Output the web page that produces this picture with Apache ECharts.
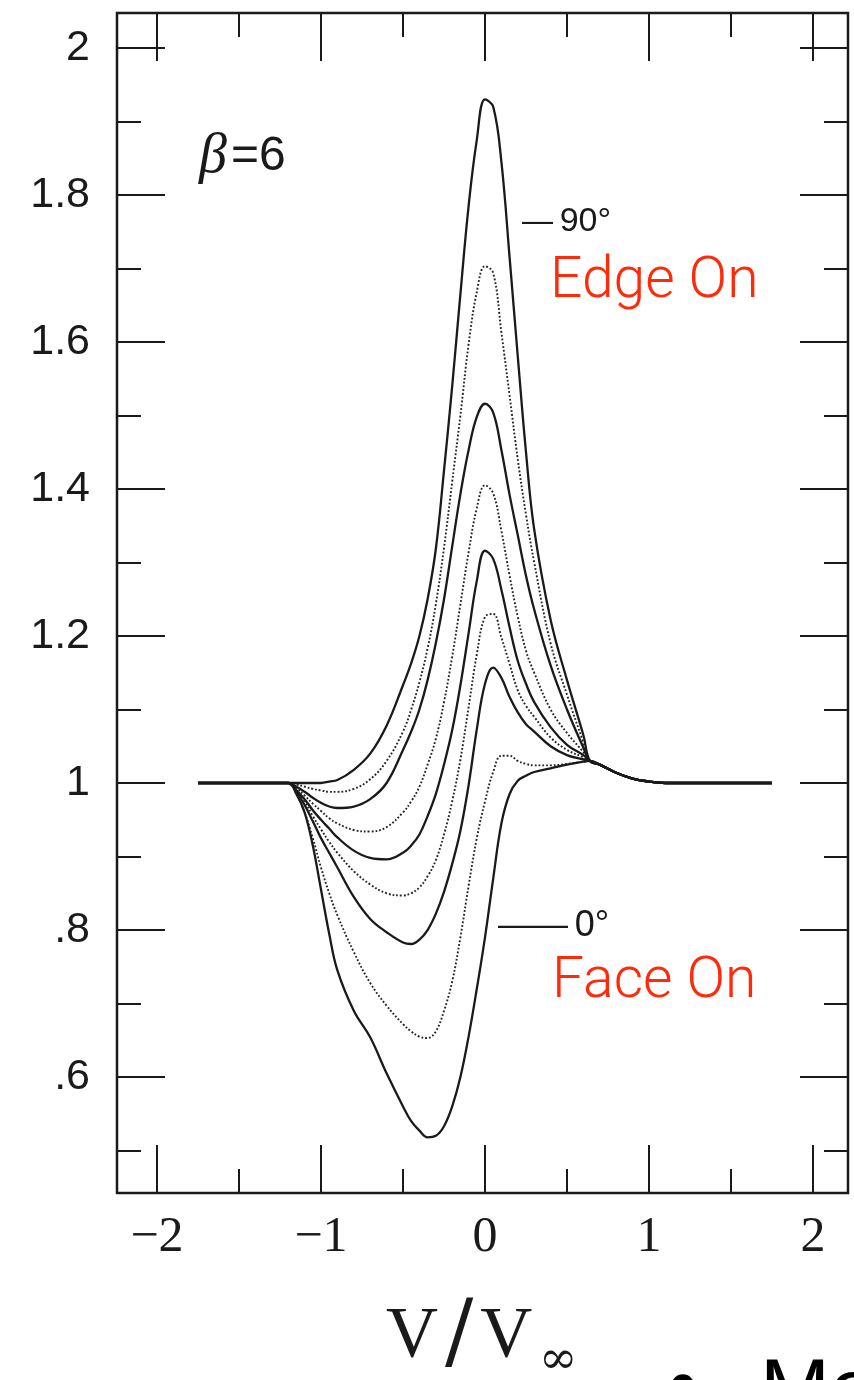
<!DOCTYPE html>
<html><head><meta charset="utf-8">
<script src="https://cdn.jsdelivr.net/npm/echarts@6/dist/echarts.min.js"></script>
<style>html,body{margin:0;padding:0;background:#fff}#c{width:854px;height:1380px}</style>
</head><body><div id="c"></div>
<script>
// velocity grid (V / V_inf)
const V = [-1.75, -1.2, -1.15, -1.1, -1.05, -1.0, -0.95, -0.9, -0.8, -0.7, -0.6, -0.5, -0.45, -0.4, -0.35, -0.3, -0.25, -0.2, -0.15, -0.1, -0.05, 0, 0.05, 0.1, 0.15, 0.2, 0.25, 0.3, 0.4, 0.5, 0.6, 0.64, 0.7, 0.8, 0.9, 1.0, 1.1, 1.2, 1.75];
// profiles, from 90 deg (edge on) down to 0 deg (face on)
const c1 = [1, 1, 1, 1, 1, 1.0, 1.002, 1.004, 1.018, 1.04, 1.078, 1.133, 1.163, 1.2, 1.25, 1.318, 1.425, 1.54, 1.665, 1.785, 1.875, 1.93, 1.92, 1.845, 1.715, 1.58, 1.45, 1.345, 1.222, 1.14, 1.065, 1.03, 1.025, 1.014, 1.006, 1.002, 1, 1, 1];
const c2 = [1, 1, 0.998, 0.995, 0.992, 0.99, 0.988, 0.988, 0.992, 1.005, 1.03, 1.07, 1.1, 1.137, 1.183, 1.243, 1.32, 1.41, 1.5, 1.597, 1.668, 1.703, 1.694, 1.613, 1.527, 1.44, 1.365, 1.3, 1.19, 1.12, 1.055, 1.03, 1.025, 1.014, 1.006, 1.002, 1, 1, 1];
const c3 = [1, 1, 0.995, 0.988, 0.98, 0.973, 0.968, 0.966, 0.968, 0.978, 1.0, 1.045, 1.07, 1.1, 1.14, 1.19, 1.25, 1.322, 1.393, 1.453, 1.498, 1.516, 1.504, 1.453, 1.392, 1.337, 1.282, 1.236, 1.16, 1.1, 1.048, 1.03, 1.025, 1.014, 1.006, 1.002, 1, 1, 1];
const c4 = [1, 1, 0.993, 0.983, 0.972, 0.962, 0.952, 0.945, 0.936, 0.934, 0.94, 0.96, 0.975, 0.995, 1.025, 1.06, 1.11, 1.172, 1.243, 1.314, 1.374, 1.405, 1.394, 1.343, 1.282, 1.226, 1.18, 1.15, 1.1, 1.068, 1.042, 1.03, 1.025, 1.014, 1.006, 1.002, 1, 1, 1];
const c5 = [1, 1, 0.99, 0.978, 0.963, 0.95, 0.938, 0.926, 0.908, 0.898, 0.896, 0.905, 0.915, 0.93, 0.955, 0.985, 1.025, 1.072, 1.133, 1.204, 1.275, 1.316, 1.305, 1.263, 1.212, 1.166, 1.135, 1.11, 1.076, 1.052, 1.038, 1.03, 1.025, 1.014, 1.006, 1.002, 1, 1, 1];
const c6 = [1, 1, 0.99, 0.975, 0.955, 0.937, 0.92, 0.905, 0.88, 0.862, 0.85, 0.847, 0.85, 0.858, 0.873, 0.895, 0.93, 0.975, 1.032, 1.103, 1.175, 1.226, 1.23, 1.198, 1.162, 1.126, 1.105, 1.09, 1.062, 1.045, 1.035, 1.03, 1.025, 1.014, 1.006, 1.002, 1, 1, 1];
const c7 = [1, 1, 0.988, 0.97, 0.948, 0.925, 0.905, 0.885, 0.845, 0.815, 0.797, 0.783, 0.781, 0.787, 0.8, 0.822, 0.852, 0.89, 0.935, 0.997, 1.073, 1.135, 1.157, 1.143, 1.117, 1.096, 1.08, 1.07, 1.05, 1.038, 1.032, 1.03, 1.025, 1.014, 1.006, 1.002, 1, 1, 1];
const c8 = [1, 1, 0.985, 0.96, 0.925, 0.885, 0.85, 0.82, 0.77, 0.728, 0.697, 0.672, 0.662, 0.655, 0.653, 0.662, 0.69, 0.73, 0.79, 0.86, 0.925, 0.975, 1.015, 1.037, 1.037, 1.03, 1.026, 1.024, 1.024, 1.026, 1.029, 1.03, 1.025, 1.014, 1.006, 1.002, 1, 1, 1];
const c9 = [1, 1, 0.985, 0.96, 0.915, 0.855, 0.795, 0.745, 0.69, 0.654, 0.605, 0.56, 0.54, 0.527, 0.518, 0.52, 0.533, 0.56, 0.6, 0.655, 0.72, 0.79, 0.87, 0.945, 0.985, 1.003, 1.01, 1.015, 1.02, 1.025, 1.029, 1.03, 1.025, 1.014, 1.006, 1.002, 1, 1, 1];
const curves = [c1, c2, c3, c4, c5, c6, c7, c8, c9];
const dotted = [false, true, false, true, false, true, false, true, false];

const xTickValues = [-2, -1, 0, 1, 2];
const xTickLabels = ['\u22122', '\u22121', '0', '1', '2'];
const yTickValues = [0.6, 0.8, 1.0, 1.2, 1.4, 1.6, 1.8, 2.0];
const yTickLabels = ['.6', '.8', '1', '1.2', '1.4', '1.6', '1.8', '2'];

const INK = '#1a1a1a';
const tickStyle = { lineStyle: { color: INK, width: 2 } };
function lab(vals, labs) {
  return v => { const i = vals.findIndex(t => Math.abs(t - v) < 1e-6); return i >= 0 ? labs[i] : ''; };
}
const hiddenAxis = (g) => ({ type: 'value', gridIndex: g, show: false, min: 0, max: 1 });

const chart = echarts.init(document.getElementById('c'), null, { renderer: 'canvas' });
chart.setOption({
  animation: false,
  backgroundColor: '#fff',
  grid: [
    { left: 117, right: 6, top: 13, bottom: 187, show: true, borderColor: INK, borderWidth: 2.5, backgroundColor: 'transparent' },
    { left: 157, right: 41, top: 13, bottom: 187 },   // x major ticks
    { left: 239, right: 123, top: 13, bottom: 187 },  // x minor ticks
    { left: 117, right: 6, top: 48, bottom: 303 },    // y major ticks
    { left: 117, right: 6, top: 121.5, bottom: 229.5 } // y minor ticks
  ],
  xAxis: [
    { type: 'value', gridIndex: 0, min: -2.2439, max: 2.2134, show: false },
    { type: 'value', gridIndex: 1, position: 'bottom', min: -2, max: 2, interval: 1,
      axisLine: { show: false }, splitLine: { show: false },
      axisTick: { show: true, inside: true, length: 48, ...tickStyle },
      axisLabel: { show: true, margin: 20, formatter: lab(xTickValues, xTickLabels), color: INK,
        fontFamily: 'Liberation Serif', fontSize: 50, showMinLabel: true, showMaxLabel: true } },
    { type: 'value', gridIndex: 1, position: 'top', min: -2, max: 2, interval: 1,
      axisLine: { show: false }, splitLine: { show: false }, axisLabel: { show: false },
      axisTick: { show: true, inside: true, length: 48, ...tickStyle } },
    { type: 'value', gridIndex: 2, position: 'bottom', min: -1.5, max: 1.5, interval: 1,
      axisLine: { show: false }, splitLine: { show: false }, axisLabel: { show: false },
      axisTick: { show: true, inside: true, length: 24, ...tickStyle } },
    { type: 'value', gridIndex: 2, position: 'top', min: -1.5, max: 1.5, interval: 1,
      axisLine: { show: false }, splitLine: { show: false }, axisLabel: { show: false },
      axisTick: { show: true, inside: true, length: 24, ...tickStyle } },
    hiddenAxis(3), hiddenAxis(4)
  ],
  yAxis: [
    { type: 'value', gridIndex: 0, min: 0.4422, max: 2.0476, show: false },
    hiddenAxis(1), hiddenAxis(2),
    { type: 'value', gridIndex: 3, position: 'left', min: 0.6, max: 2.0, interval: 0.2,
      axisLine: { show: false }, splitLine: { show: false },
      axisTick: { show: true, inside: true, length: 48, ...tickStyle },
      axisLabel: { show: true, margin: 27, formatter: lab(yTickValues, yTickLabels), color: INK,
        fontFamily: 'Liberation Sans', fontSize: 43, showMinLabel: true, showMaxLabel: true } },
    { type: 'value', gridIndex: 3, position: 'right', min: 0.6, max: 2.0, interval: 0.2,
      axisLine: { show: false }, splitLine: { show: false }, axisLabel: { show: false },
      axisTick: { show: true, inside: true, length: 48, ...tickStyle } },
    { type: 'value', gridIndex: 4, position: 'left', min: 0.5, max: 1.9, interval: 0.2,
      axisLine: { show: false }, splitLine: { show: false }, axisLabel: { show: false },
      axisTick: { show: true, inside: true, length: 24, ...tickStyle } },
    { type: 'value', gridIndex: 4, position: 'right', min: 0.5, max: 1.9, interval: 0.2,
      axisLine: { show: false }, splitLine: { show: false }, axisLabel: { show: false },
      axisTick: { show: true, inside: true, length: 24, ...tickStyle } }
  ],
  series: curves.map((c, k) => ({
    type: 'line', xAxisIndex: 0, yAxisIndex: 0, silent: true,
    showSymbol: false, smooth: 0.4,
    data: V.map((x, i) => [x, c[i]]),
    lineStyle: dotted[k] ? { color: '#222', width: 1.9, type: [1.8, 2.0] } : { color: INK, width: 2.3 }
  })),
  graphic: [
    { type: 'text', x: 199, y: 157, style: { text: '{b|\u03b2}{n|=6}', align: 'left', verticalAlign: 'middle',
      rich: { b: { fontFamily: 'Liberation Serif', fontStyle: 'italic', fontSize: 56, fill: INK, padding: [0, 4, 0, 0] },
              n: { fontFamily: 'Liberation Sans', fontSize: 48, fill: INK } } } },
    { type: 'text', x: 522, y: 222, style: { text: '{d|\u2014}  {n|90\u00b0}', align: 'left', verticalAlign: 'middle',
      rich: { d: { fontFamily: 'Liberation Sans', fontSize: 31, fill: INK }, n: { fontFamily: 'Liberation Sans', fontSize: 34, fill: INK } } } },
    { type: 'text', x: 550, y: 283, style: { text: 'Edge On', align: 'left', verticalAlign: 'middle',
      fontFamily: 'Roboto', fontWeight: 300, fontSize: 57, fill: '#ff2a0a' } },
    { type: 'text', x: 498, y: 926, style: { text: '{d|\u2014\u2014}  {n|0\u00b0}', align: 'left', verticalAlign: 'middle',
      rich: { d: { fontFamily: 'Liberation Sans', fontSize: 35, fill: INK }, n: { fontFamily: 'Liberation Sans', fontSize: 36, fill: INK } } } },
    { type: 'text', x: 552, y: 983, style: { text: 'Face On', align: 'left', verticalAlign: 'middle',
      fontFamily: 'Roboto', fontWeight: 300, fontSize: 57, fill: '#ff2a0a' } },
    { type: 'text', x: 386, y: 1337, style: { text: '{v|V}{s|/}{v|V}', align: 'left', verticalAlign: 'middle',
      rich: { v: { fontFamily: 'Liberation Serif', fontSize: 72, fill: INK },
              s: { fontFamily: 'DejaVu Serif', fontSize: 84, fill: INK, padding: [0, 7, 0, 7] } } } },
    { type: 'text', x: 539, y: 1361, style: { text: '\u221e', align: 'left', verticalAlign: 'middle',
      fontFamily: 'DejaVu Serif', fontSize: 46, fill: INK } },
    { type: 'text', x: 683, y: 1390, style: { text: '\u2022', align: 'center', verticalAlign: 'middle',
      fontFamily: 'Liberation Sans', fontSize: 84, fill: '#000' } },
    { type: 'text', x: 760, y: 1352, style: { text: 'Mo', align: 'left', verticalAlign: 'top',
      fontFamily: 'Liberation Sans', fontSize: 84, fill: '#000' } }
  ]
});
</script>
</body></html>
